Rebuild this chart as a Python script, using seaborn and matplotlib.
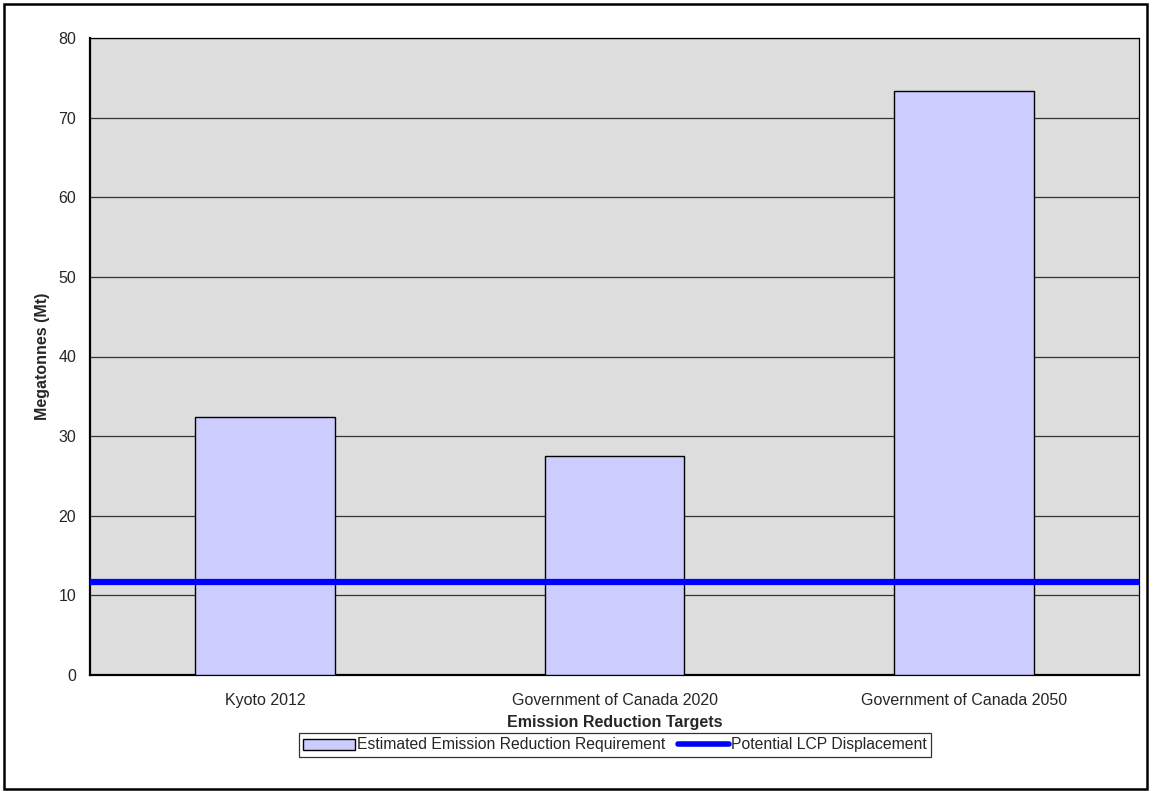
import matplotlib
matplotlib.use("Agg")
import matplotlib.pyplot as plt
import seaborn as sns
import pandas as pd
from matplotlib.patches import Patch, Rectangle
from matplotlib.lines import Line2D

categories = ["Kyoto 2012", "Government of Canada 2020", "Government of Canada 2050"]
requirement = [32.4, 27.5, 73.3]
lcp_displacement = [11.7]
y_ticks = [0, 10, 20, 30, 40, 50, 60, 70, 80]

sns.set_style("white")
plt.rcParams['font.family'] = ['Liberation Sans', 'DejaVu Sans']

df = pd.DataFrame({"Target": categories, "Mt": requirement})

fig = plt.figure(figsize=(11.52, 7.92), dpi=100)
ax = fig.add_axes([90/1152, 1-675/792, (1139-90)/1152, (675-38)/792])
ax.set_facecolor("#DDDDDD")

sns.barplot(data=df, x="Target", y="Mt", ax=ax, color="#CCCCFF",
            edgecolor="black", linewidth=1.0, width=0.4, saturation=1, zorder=3)
ax.axhline(lcp_displacement[0], color="#0000FF", linewidth=4.5, zorder=4)

ax.set_ylim(0, 80)
ax.set_xlim(-0.5, len(categories) - 0.5)
ax.set_yticks(y_ticks)
ax.yaxis.grid(True, color="#333333", linewidth=0.9, zorder=0)
ax.set_axisbelow(True)

# category boundary ticks
ax.set_xticks([i + 0.5 for i in range(-1, len(categories))])
ax.set_xticklabels([])
ax.set_xticks(range(len(categories)), minor=True)
ax.set_xticklabels(categories, minor=True, fontsize=11.5)
ax.tick_params(axis="x", which="minor", length=0, pad=13)
ax.tick_params(axis="x", which="major", direction="inout", length=9, width=0.8, color="black")
ax.tick_params(axis="y", direction="out", length=5, width=0.8, color="black", labelsize=11.5, pad=5)

for side in ["top", "right"]:
    ax.spines[side].set_visible(True)
    ax.spines[side].set_color("black")
    ax.spines[side].set_linewidth(0.9)
for side in ["left", "bottom"]:
    ax.spines[side].set_color("black")
    ax.spines[side].set_linewidth(1.6)

ax.set_xlabel("Emission Reduction Targets", fontsize=11.5, fontweight="bold", labelpad=5)
ax.set_ylabel("Megatonnes (Mt)", fontsize=11.5, fontweight="bold", labelpad=6)

handles = [Patch(facecolor="#CCCCFF", edgecolor="black", linewidth=1.0),
           Line2D([0], [0], color="#0000FF", linewidth=4)]
leg = fig.legend(handles, ["Estimated Emission Reduction Requirement", "Potential LCP Displacement"],
                 loc="center", bbox_to_anchor=(615/1152, 1-745/792), ncol=2,
                 fontsize=11.3, frameon=True, fancybox=False, edgecolor="black",
                 handlelength=3.3, handleheight=0.7, handletextpad=0.1, columnspacing=0.8,
                 borderpad=0.3, borderaxespad=0)
leg.get_frame().set_linewidth(0.9)

fig.patches.append(Rectangle((4/1152, 3/792), 1143/1152, 785/792, transform=fig.transFigure,
                             fill=False, edgecolor="black", linewidth=1.8))

fig.savefig("out.png", dpi=100)
